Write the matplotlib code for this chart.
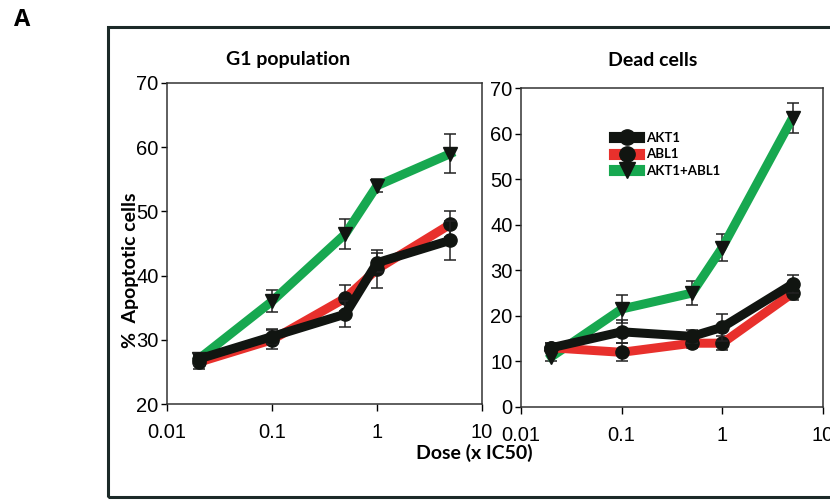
import numpy as np
import matplotlib.pyplot as plt
from matplotlib.patches import Rectangle
from matplotlib.lines import Line2D

# doses (x IC50)
dose = [0.02, 0.1, 0.5, 1, 5]

# G1 population (% apoptotic cells)
g1_akt1 = [27, 30.5, 34, 42, 45.5]
g1_akt1_err = [1, 1.2, 2, 1.5, 3]
g1_abl1 = [26.5, 30, 36.5, 41, 48]
g1_abl1_err = [1, 1.5, 2, 3, 2]
g1_combo = [27, 36, 46.5, 54, 59]
g1_combo_err = [1, 1.7, 2.3, 1, 3]

# dead cells (% apoptotic cells)
dead_akt1 = [13, 16.5, 15.5, 17.5, 27]
dead_akt1_err = [1, 2.5, 1.5, 3, 2]
dead_abl1 = [13, 12, 14, 14, 25]
dead_abl1_err = [1, 2, 1, 1.5, 1.5]
dead_combo = [11, 21.5, 25, 35, 63.5]
dead_combo_err = [1, 3, 2.7, 3, 3.3]

labels = ["AKT1", "ABL1", "AKT1+ABL1"]
colors = ["#111511", "#e8302c", "#17a850"]
markers = ["o", "o", "v"]

fig = plt.figure(figsize=(8.3, 5.01), dpi=100)

# panel frame
fig.patches.append(Rectangle((108 / 830, 1 - 497 / 501), 0.9, (497 - 27) / 501,
                             transform=fig.transFigure, fill=False,
                             edgecolor="#1c2a28", linewidth=2.2))
fig.text(14 / 830, 1 - 20 / 501, "A", fontsize=17, fontweight="bold",
         family="Open Sans", va="center")

ax1 = fig.add_axes([167 / 830, 1 - 404 / 501, 315 / 830, 321 / 501])
ax2 = fig.add_axes([521 / 830, 1 - 407 / 501, 302 / 830, 319 / 501])

tick_font = dict(family="Liberation Sans", size=14.5)
label_font = dict(family="Lato", fontweight="bold", fontsize=14)


def draw(ax, series, errs):
    # combo first so the single-drug lines sit on top
    for i in [2, 1, 0]:
        ax.errorbar(dose, series[i], yerr=errs[i], color=colors[i], lw=6.5,
                    marker=markers[i], ms=9.5, mfc="#111511", mec="#111511",
                    ecolor="#222", elinewidth=1.1, capsize=4, capthick=1.1,
                    zorder=3 + (2 - i))
    ax.set_xscale("log")
    ax.set_xlim(0.01, 10)
    ax.set_xticks([0.01, 0.1, 1, 10])
    ax.set_xticklabels(["0.01", "0.1", "1", "10"], **tick_font)
    ax.minorticks_off()
    ax.tick_params(axis="x", direction="out", length=5, width=1, pad=9)
    ax.tick_params(axis="y", direction="out", length=4, width=1, pad=2)
    for s in ax.spines.values():
        s.set_linewidth(1.1)
        s.set_color("#333")


draw(ax1, [g1_akt1, g1_abl1, g1_combo], [g1_akt1_err, g1_abl1_err, g1_combo_err])
ax1.set_ylim(20, 70)
ax1.set_yticks(range(20, 71, 10))
ax1.set_yticklabels([str(v) for v in range(20, 71, 10)], **tick_font)

draw(ax2, [dead_akt1, dead_abl1, dead_combo], [dead_akt1_err, dead_abl1_err, dead_combo_err])
ax2.set_ylim(0, 70)
ax2.set_yticks(range(0, 71, 10))
ax2.set_yticklabels([str(v) for v in range(0, 71, 10)], **tick_font)

fig.text(288 / 830, 1 - 60 / 501, "G1 population", ha="center", va="center", **label_font)
fig.text(653 / 830, 1 - 60 / 501, "Dead cells", ha="center", va="center", **label_font)
fig.text(130 / 830, 1 - 270 / 501, "%  Apoptotic cells", rotation=90, ha="center",
         va="center", **label_font)
fig.text(474 / 830, 1 - 453 / 501, "Dose (x IC50)", ha="center", va="center", **label_font)

handles = [Line2D([], [], color=colors[i], lw=8, marker=markers[i], ms=11,
                  mfc="#111511", mec="#111511") for i in range(3)]
ax2.legend(handles, labels, loc="upper left", bbox_to_anchor=(0.27, 0.9),
           frameon=False, prop=dict(family="Lato", weight="bold", size=9.5),
           handlelength=1.9, handletextpad=0.5, labelspacing=0.35)

fig.savefig("out.png", dpi=100)
